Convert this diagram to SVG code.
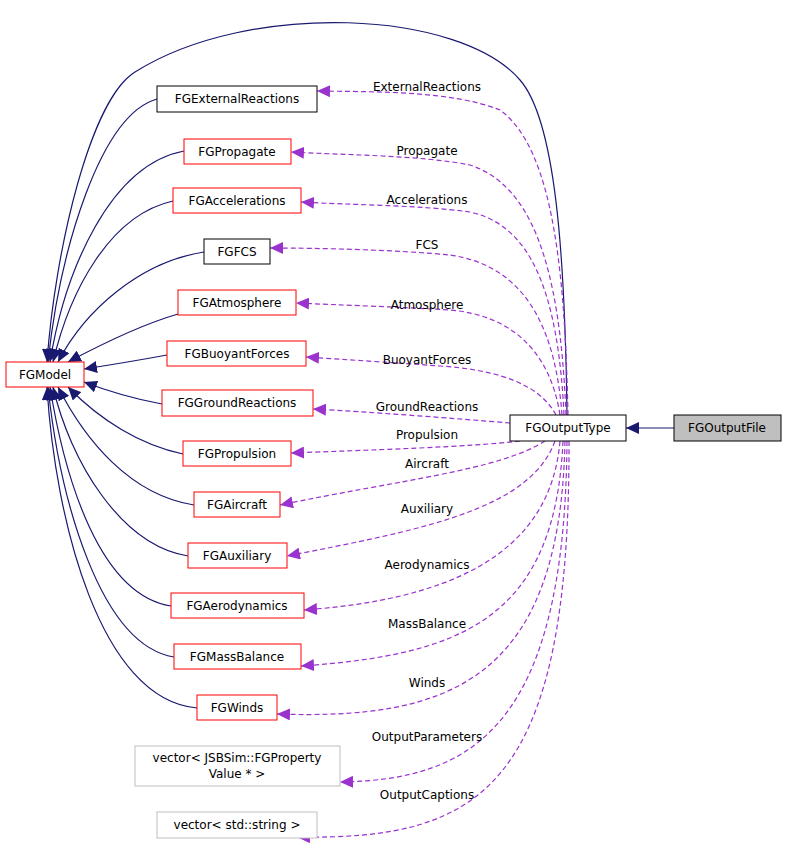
<svg xmlns="http://www.w3.org/2000/svg" width="787" height="848" viewBox="0 0 787 848">
<style>
text{font-family:"DejaVu Sans","Liberation Sans",sans-serif;font-size:12px;text-anchor:middle;fill:#000}
.r{fill:#fff;stroke:#ff0000}
.k{fill:#fff;stroke:#000}
.g{fill:#fff;stroke:#bfbfbf}
.s{fill:none;stroke:#191970;stroke-width:1.2}
.d{fill:none;stroke:#9a32cd;stroke-width:1.2;stroke-dasharray:5,3}
</style>
<defs>
<marker id="an" markerUnits="userSpaceOnUse" markerWidth="14" markerHeight="12" refX="13" refY="6" orient="auto"><path d="M0,0 L13,6 L0,12 Z" fill="#191970"/></marker>
<marker id="ap" markerUnits="userSpaceOnUse" markerWidth="14" markerHeight="12" refX="13" refY="6" orient="auto"><path d="M0,0 L13,6 L0,12 Z" fill="#9a32cd"/></marker>
</defs>
<g id="connectors">
<path class="s" marker-end="url(#an)" d="M567,415 C565,250 555,120 520,80 C460,10 250,0 135,72 C90,100 55,250 47,362"/>
<path class="s" marker-end="url(#an)" d="M157,99 C100,115 60,250 48,362"/>
<path class="s" marker-end="url(#an)" d="M184,151 C110,165 65,270 50,362"/>
<path class="s" marker-end="url(#an)" d="M173,201 C110,215 70,290 53,362"/>
<path class="s" marker-end="url(#an)" d="M204,252 C140,262 85,310 58,362"/>
<path class="s" marker-end="url(#an)" d="M178,314 C140,325 100,345 68,362"/>
<path class="s" marker-end="url(#an)" d="M167,355 C140,360 110,365 84,369"/>
<path class="s" marker-end="url(#an)" d="M162,404 C140,400 110,392 84,382"/>
<path class="s" marker-end="url(#an)" d="M183,454 C140,445 100,420 68,387"/>
<path class="s" marker-end="url(#an)" d="M194,505 C130,495 85,440 58,387"/>
<path class="s" marker-end="url(#an)" d="M188,556 C120,545 70,460 53,387"/>
<path class="s" marker-end="url(#an)" d="M171,606 C100,595 65,480 50,387"/>
<path class="s" marker-end="url(#an)" d="M174,657 C100,645 60,500 48,387"/>
<path class="s" marker-end="url(#an)" d="M197,708 C100,700 55,520 47,387"/>
<path class="s" marker-end="url(#an)" d="M674,428 L626,428"/>
<path class="d" marker-end="url(#ap)" d="M568,415 C565,280 555,150 500,110 C450,90 370,92 317,91"/>
<path class="d" marker-end="url(#ap)" d="M566,415 C560,260 530,185 470,165 C420,155 340,155 291,152"/>
<path class="d" marker-end="url(#ap)" d="M564,415 C558,290 530,225 470,212 C420,205 350,205 301,202"/>
<path class="d" marker-end="url(#ap)" d="M562,415 C555,320 520,265 450,255 C400,250 320,248 270,248"/>
<path class="d" marker-end="url(#ap)" d="M560,415 C550,350 510,315 450,310 C400,307 340,305 296,303"/>
<path class="d" marker-end="url(#ap)" d="M556,415 C540,385 500,370 440,366 C400,363 350,360 306,357"/>
<path class="d" marker-end="url(#ap)" d="M510,423 C450,418 370,412 313,409"/>
<path class="d" marker-end="url(#ap)" d="M520,441 C470,447 370,450 291,453"/>
<path class="d" marker-end="url(#ap)" d="M545,441 C500,470 400,480 280,505"/>
<path class="d" marker-end="url(#ap)" d="M555,441 C530,510 420,530 287,556"/>
<path class="d" marker-end="url(#ap)" d="M560,441 C550,560 440,600 304,610"/>
<path class="d" marker-end="url(#ap)" d="M563,441 C555,620 460,655 301,666"/>
<path class="d" marker-end="url(#ap)" d="M565,441 C560,680 450,720 277,714"/>
<path class="d" marker-end="url(#ap)" d="M567,441 C565,730 470,780 340,782"/>
<path class="d" marker-end="url(#ap)" d="M569,441 C570,790 480,840 297,837"/>
<text x="427" y="91">ExternalReactions</text>
<text x="427" y="155">Propagate</text>
<text x="427" y="204">Accelerations</text>
<text x="427" y="249">FCS</text>
<text x="427" y="309">Atmosphere</text>
<text x="427" y="364">BuoyantForces</text>
<text x="427" y="411">GroundReactions</text>
<text x="427" y="439">Propulsion</text>
<text x="427" y="468">Aircraft</text>
<text x="427" y="513">Auxiliary</text>
<text x="427" y="569">Aerodynamics</text>
<text x="427" y="628">MassBalance</text>
<text x="427" y="687">Winds</text>
<text x="427" y="741">OutputParameters</text>
<text x="427" y="799">OutputCaptions</text>
</g>
<g id="FGModel"><rect class="r" x="6" y="362" width="78" height="25"/><text x="45" y="379">FGModel</text></g>
<g id="FGExternalReactions"><rect class="k" x="157" y="86" width="160" height="26"/><text x="237" y="103">FGExternalReactions</text></g>
<g id="FGPropagate"><rect class="r" x="184" y="139" width="107" height="25"/><text x="237" y="156">FGPropagate</text></g>
<g id="FGAccelerations"><rect class="r" x="173" y="188" width="128" height="25"/><text x="237" y="205">FGAccelerations</text></g>
<g id="FGFCS"><rect class="k" x="204" y="239" width="66" height="25"/><text x="237" y="256">FGFCS</text></g>
<g id="FGAtmosphere"><rect class="r" x="178" y="290" width="118" height="25"/><text x="237" y="307">FGAtmosphere</text></g>
<g id="FGBuoyantForces"><rect class="r" x="167" y="341" width="139" height="25"/><text x="237" y="358">FGBuoyantForces</text></g>
<g id="FGGroundReactions"><rect class="r" x="162" y="390" width="151" height="26"/><text x="237" y="407">FGGroundReactions</text></g>
<g id="FGPropulsion"><rect class="r" x="183" y="441" width="108" height="25"/><text x="237" y="458">FGPropulsion</text></g>
<g id="FGAircraft"><rect class="r" x="194" y="492" width="86" height="25"/><text x="237" y="509">FGAircraft</text></g>
<g id="FGAuxiliary"><rect class="r" x="188" y="543" width="99" height="25"/><text x="237" y="560">FGAuxiliary</text></g>
<g id="FGAerodynamics"><rect class="r" x="171" y="593" width="133" height="25"/><text x="237" y="610">FGAerodynamics</text></g>
<g id="FGMassBalance"><rect class="r" x="174" y="644" width="127" height="25"/><text x="237" y="661">FGMassBalance</text></g>
<g id="FGWinds"><rect class="r" x="197" y="695" width="80" height="25"/><text x="237" y="712">FGWinds</text></g>
<g id="vectorProp"><rect class="g" x="135" y="746" width="205" height="40"/><text x="237" y="762">vector&lt; JSBSim::FGProperty</text><text x="237" y="778">Value * &gt;</text></g>
<g id="vectorString"><rect class="g" x="157" y="812" width="160" height="26"/><text x="237" y="829">vector&lt; std::string &gt;</text></g>
<g id="FGOutputType"><rect class="k" x="510" y="415" width="116" height="26"/><text x="568" y="432">FGOutputType</text></g>
<g id="FGOutputFile"><rect x="674" y="415" width="107" height="26" fill="#bfbfbf" stroke="#000"/><text x="727" y="432">FGOutputFile</text></g>
</svg>
